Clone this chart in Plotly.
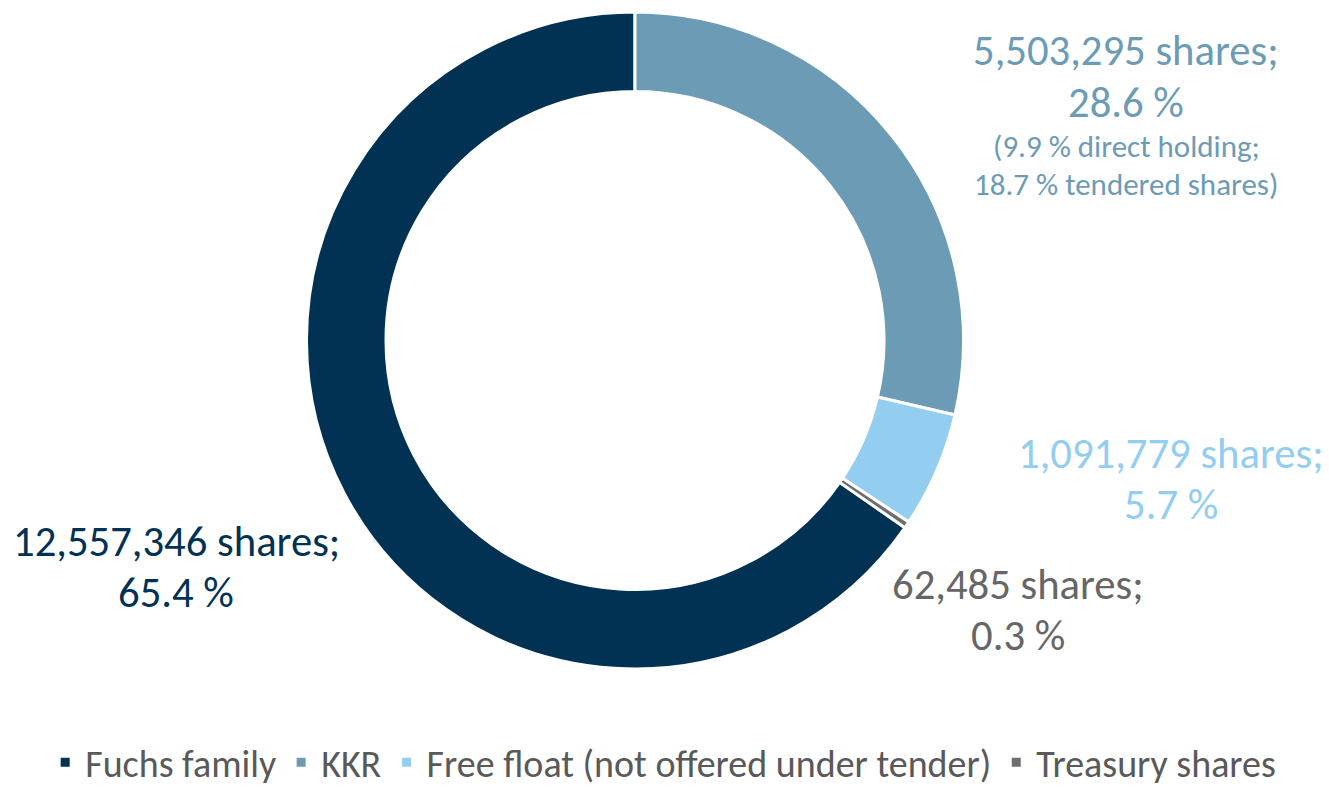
import plotly.graph_objects as go

# ---- data ----
holders = ["Fuchs family", "KKR", "Free float (not offered under tender)", "Treasury shares"]
shares = [12557346, 5503295, 1091779, 62485]
percents = [65.4, 28.6, 5.7, 0.3]
kkr_detail = ["(9.9 % direct holding;", "18.7 % tendered shares)"]

colors = ["#013253", "#6C9BB5", "#93CDF0", "#6E6E6E"]
label_colors = ["#013253", "#6C9BB5", "#93CDF0", "#666666"]

FONT = "Carlito, Lato, sans-serif"
W, H = 1329, 794

total = sum(shares)
rotation = 360.0 * (1 - shares[0] / total)

fig = go.Figure()
fig.add_trace(go.Pie(
    labels=holders,
    values=shares,
    sort=False,
    direction="clockwise",
    rotation=rotation,
    hole=0.758,
    marker=dict(colors=colors, line=dict(color="white", width=3)),
    textinfo="none",
    hoverinfo="label+value+percent",
    domain=dict(x=[306.5 / W, 963.5 / W], y=[(H - 669) / H, (H - 12) / H]),
))

# label line centers (pixels): (x, y_line1, y_line2)
label_pos = [(176, 541, 592), (1126, 50, 102), (1171, 453, 504), (1018, 584, 635)]
anns = []

def add(text, px, py, size, color):
    anns.append(dict(
        text=text, x=px / W, y=1 - py / H, xref="paper", yref="paper",
        xanchor="center", yanchor="middle", showarrow=False, align="center",
        font=dict(family=FONT, size=size, color=color),
    ))

for i, (px, py1, py2) in enumerate(label_pos):
    add(f"{shares[i]:,} shares;", px, py1, 42.7, label_colors[i])
    add(f"{percents[i]:.1f} %", px, py2, 42.7, label_colors[i])

add(kkr_detail[0], 1126, 146, 31, label_colors[1])
add(kkr_detail[1], 1126, 184, 31, label_colors[1])

fig.update_layout(
    width=W, height=H,
    margin=dict(l=0, r=0, t=0, b=0, autoexpand=False),
    paper_bgcolor="white", plot_bgcolor="white",
    font=dict(family=FONT),
    showlegend=True,
    legend=dict(
        orientation="h", x=0.499, xanchor="center", y=0, yanchor="bottom",
        font=dict(family=FONT, size=38, color="#595959"),
        traceorder="normal",
    ),
    annotations=anns,
)

fig.write_html("out.html")
